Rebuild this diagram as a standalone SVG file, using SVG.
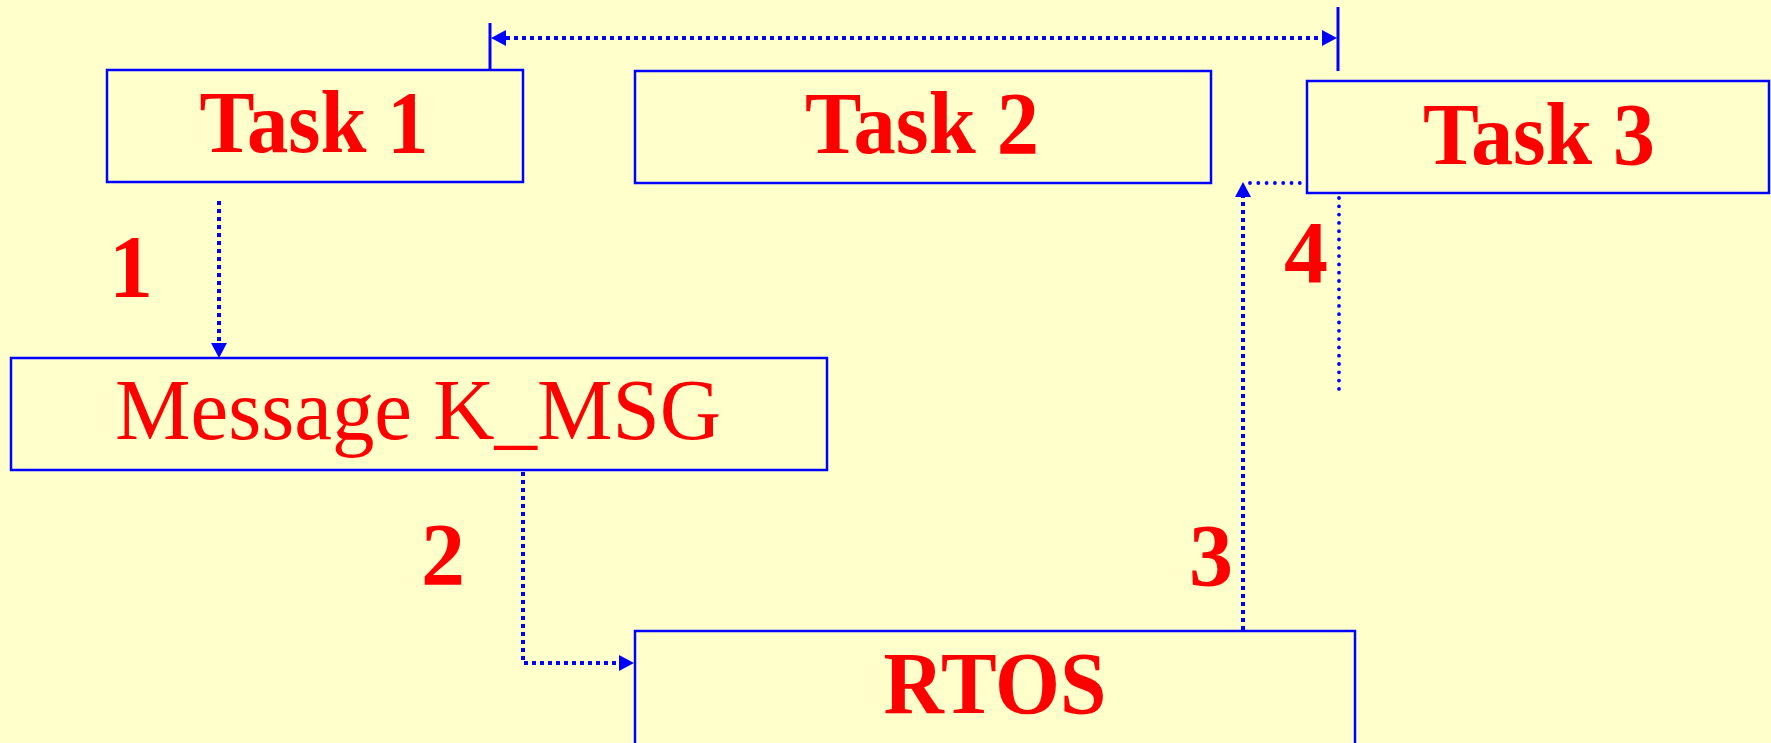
<svg xmlns="http://www.w3.org/2000/svg" width="1771" height="743" viewBox="0 0 1771 743">
  <style>
    .box { fill: none; stroke: #0000FF; stroke-width: 2.5; }
    .bold { font-family: "Liberation Serif", "Times New Roman", serif; font-weight: bold; font-size: 88px; fill: #FF0000; text-anchor: middle; }
    .reg { font-family: "Liberation Serif", "Times New Roman", serif; font-size: 86px; fill: #FF0000; text-anchor: middle; }
    .sq { fill: none; stroke: #0000FF; stroke-width: 4; stroke-dasharray: 4 4; }
    .rd { fill: none; stroke: #0000FF; stroke-width: 3.8; stroke-linecap: round; stroke-dasharray: 0 8.3; }
    .tick { stroke: #0000FF; stroke-width: 3; }
  </style>
  <defs>
    <marker id="ah" viewBox="0 0 15 16" refX="0" refY="8" markerWidth="15" markerHeight="16" markerUnits="userSpaceOnUse" orient="auto-start-reverse">
      <path d="M0,0 L15,8 L0,16 Z" fill="#0000FF"/>
    </marker>
  </defs>
  <rect width="1771" height="743" fill="#FFFFCC"/>

  <g id="task1">
    <rect class="box" x="107" y="70" width="416" height="112"/>
    <text class="bold" x="314" y="152" textLength="229" lengthAdjust="spacingAndGlyphs">Task 1</text>
  </g>
  <g id="task2">
    <rect class="box" x="635" y="71" width="576" height="112"/>
    <text class="bold" x="922" y="153" textLength="234" lengthAdjust="spacingAndGlyphs">Task 2</text>
  </g>
  <g id="task3">
    <rect class="box" x="1307" y="81" width="462" height="112"/>
    <text class="bold" x="1539" y="164" textLength="232" lengthAdjust="spacingAndGlyphs">Task 3</text>
  </g>
  <g id="message">
    <rect class="box" x="11" y="358" width="816" height="112"/>
    <text class="reg" x="418" y="439" textLength="606" lengthAdjust="spacingAndGlyphs">Message K_MSG</text>
  </g>
  <g id="rtos">
    <rect class="box" x="635" y="631" width="720" height="130"/>
    <text class="bold" x="995" y="713" textLength="223" lengthAdjust="spacingAndGlyphs">RTOS</text>
  </g>

  <g id="connectors">
    <line class="tick" x1="490" y1="23" x2="490" y2="70"/>
    <line class="tick" x1="1338" y1="7" x2="1338" y2="71"/>
    <line class="sq" x1="506" y1="38" x2="1322" y2="38" marker-start="url(#ah)" marker-end="url(#ah)"/>
    <line class="sq" x1="219" y1="201" x2="219" y2="343" marker-end="url(#ah)"/>
    <polyline class="sq" points="523,472 523,663 619,663" marker-end="url(#ah)"/>
    <line class="sq" x1="1243" y1="630" x2="1243" y2="197" marker-end="url(#ah)"/>
    <line class="rd" x1="1250" y1="183" x2="1305" y2="183"/>
    <line class="rd" x1="1339" y1="198" x2="1339" y2="390"/>
  </g>

  <g id="labels">
    <text class="bold" x="131" y="296">1</text>
    <text class="bold" x="443" y="584">2</text>
    <text class="bold" x="1211" y="585">3</text>
    <text class="bold" x="1306" y="282">4</text>
  </g>
</svg>
